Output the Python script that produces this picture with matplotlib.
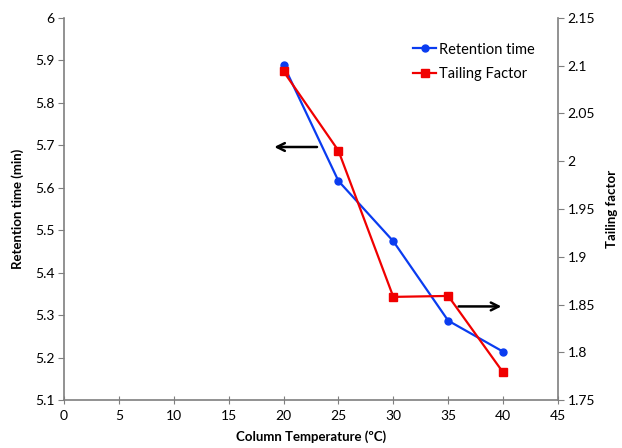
import matplotlib.pyplot as plt

plt.rcParams['font.family'] = ['Lato', 'DejaVu Sans']

temps = [20, 25, 30, 35, 40]
retention = [5.889, 5.616, 5.474, 5.287, 5.214]
tailing = [2.094, 2.011, 1.858, 1.859, 1.779]

x_ticks = list(range(0, 50, 5))
left_ticks = [5.1, 5.2, 5.3, 5.4, 5.5, 5.6, 5.7, 5.8, 5.9, 6]
right_ticks = [1.75, 1.8, 1.85, 1.9, 1.95, 2, 2.05, 2.1, 2.15]

axis_col = "#7f7f7f"

fig = plt.figure(figsize=(6.22, 4.48), dpi=100)
ax = fig.add_axes([0.103, 0.107, 0.794, 0.853])
ax2 = ax.twinx()

l1, = ax.plot(temps, retention, color="#0a3cf0", lw=1.6, marker="o", ms=5,
              label="Retention time")
l2, = ax2.plot(temps, tailing, color="#f00000", lw=1.6, marker="s", ms=5.5,
               label="Tailing Factor")

ax.set_xlim(0, 45)
ax.set_ylim(5.1, 6)
ax2.set_ylim(1.75, 2.15)
ax.set_xticks(x_ticks)
ax.set_yticks(left_ticks)
ax.set_yticklabels([f"{v:g}" for v in left_ticks])
ax2.set_yticks(right_ticks)
ax2.set_yticklabels([f"{v:g}" for v in right_ticks])

for a in (ax, ax2):
    a.spines['top'].set_visible(False)
    for s in ('left', 'right', 'bottom'):
        a.spines[s].set_color(axis_col)
        a.spines[s].set_linewidth(1.2)
ax.spines['right'].set_visible(False)
ax2.spines['left'].set_visible(False)
ax2.spines['bottom'].set_visible(False)

ax.tick_params(axis='x', direction='inout', length=6, color=axis_col,
               labelsize=10, pad=4)
ax.tick_params(axis='y', direction='out', length=4, color=axis_col,
               labelsize=10, pad=3)
ax2.tick_params(axis='y', direction='out', length=4, color=axis_col,
                labelsize=10, pad=3)

ax.set_xlabel("Column Temperature (\u00baC)", fontsize=9.5, fontweight='bold',
              labelpad=6)
ax.set_ylabel("Retention time (min)", fontsize=9.5, fontweight='bold',
              labelpad=8)
ax2.set_ylabel("Tailing factor", fontsize=9.5, fontweight='bold', labelpad=8)

# arrows pointing to the axis each series belongs to
ax.annotate("", xy=(18.9, 5.696), xytext=(23.3, 5.696),
            arrowprops=dict(arrowstyle="->", color="black", lw=1.8,
                            mutation_scale=14))
ax2.annotate("", xy=(40.1, 1.848), xytext=(35.7, 1.848),
             arrowprops=dict(arrowstyle="->", color="black", lw=1.8,
                             mutation_scale=14))

ax.legend(handles=[l1, l2], loc='upper right', bbox_to_anchor=(0.98, 0.97),
          frameon=False, fontsize=10.5, handlelength=1.6, handletextpad=0.2,
          labelspacing=0.7)

fig.savefig("out.png", dpi=100)
